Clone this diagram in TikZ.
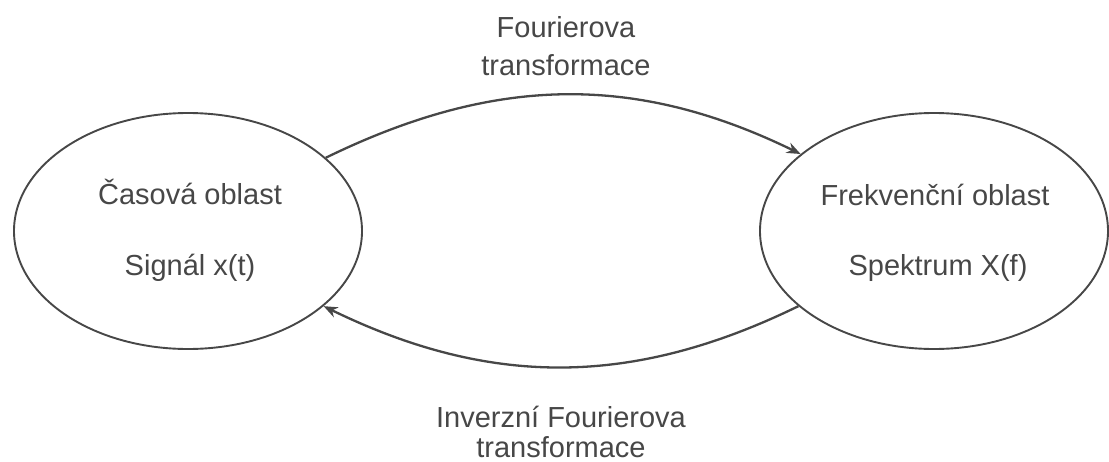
\documentclass[tikz,border=0pt]{standalone}
\usepackage{fontspec}
\setmainfont{Liberation Sans}
\usetikzlibrary{shapes.geometric,arrows.meta}
\definecolor{ink}{HTML}{474747}
\begin{document}
\begin{tikzpicture}[x=1pt,y=-1pt,
  areabox/.style={ellipse,draw=ink,line width=1.9pt,inner sep=0pt,minimum width=348pt,minimum height=236pt},
  txt/.style={anchor=base,inner sep=0pt,text=ink,font=\fontsize{29}{38}\selectfont},
  conn/.style={draw=ink,line width=2.3pt,-{Stealth[length=14pt,width=11pt]}}]
\useasboundingbox (0,0) rectangle (1109,461);
\node[areabox] (L) at (188,231) {};
\node[areabox] (R) at (934,231) {};
\node[txt] (l1) at (190,204) {Časová oblast};
\node[txt] (l2) at (190,275) {Signál x(t)};
\node[txt] (r1) at (935,205) {Frekvenční oblast};
\node[txt] (r2) at (938,275) {Spektrum X(f)};
\node[txt] (t1) at (566,37) {Fourierova};
\node[txt] (t2) at (566,75) {transformace};
\node[txt] (b1) at (561,427) {Inverzní Fourierova};
\node[txt] (b2) at (561,457) {transformace};
\draw[conn] (L.28.8) to[out=26,in=154] (R.150.8);
\draw[conn] (R.209.9) to[out=-154,in=-26] (L.331.5);
\end{tikzpicture}
\end{document}
